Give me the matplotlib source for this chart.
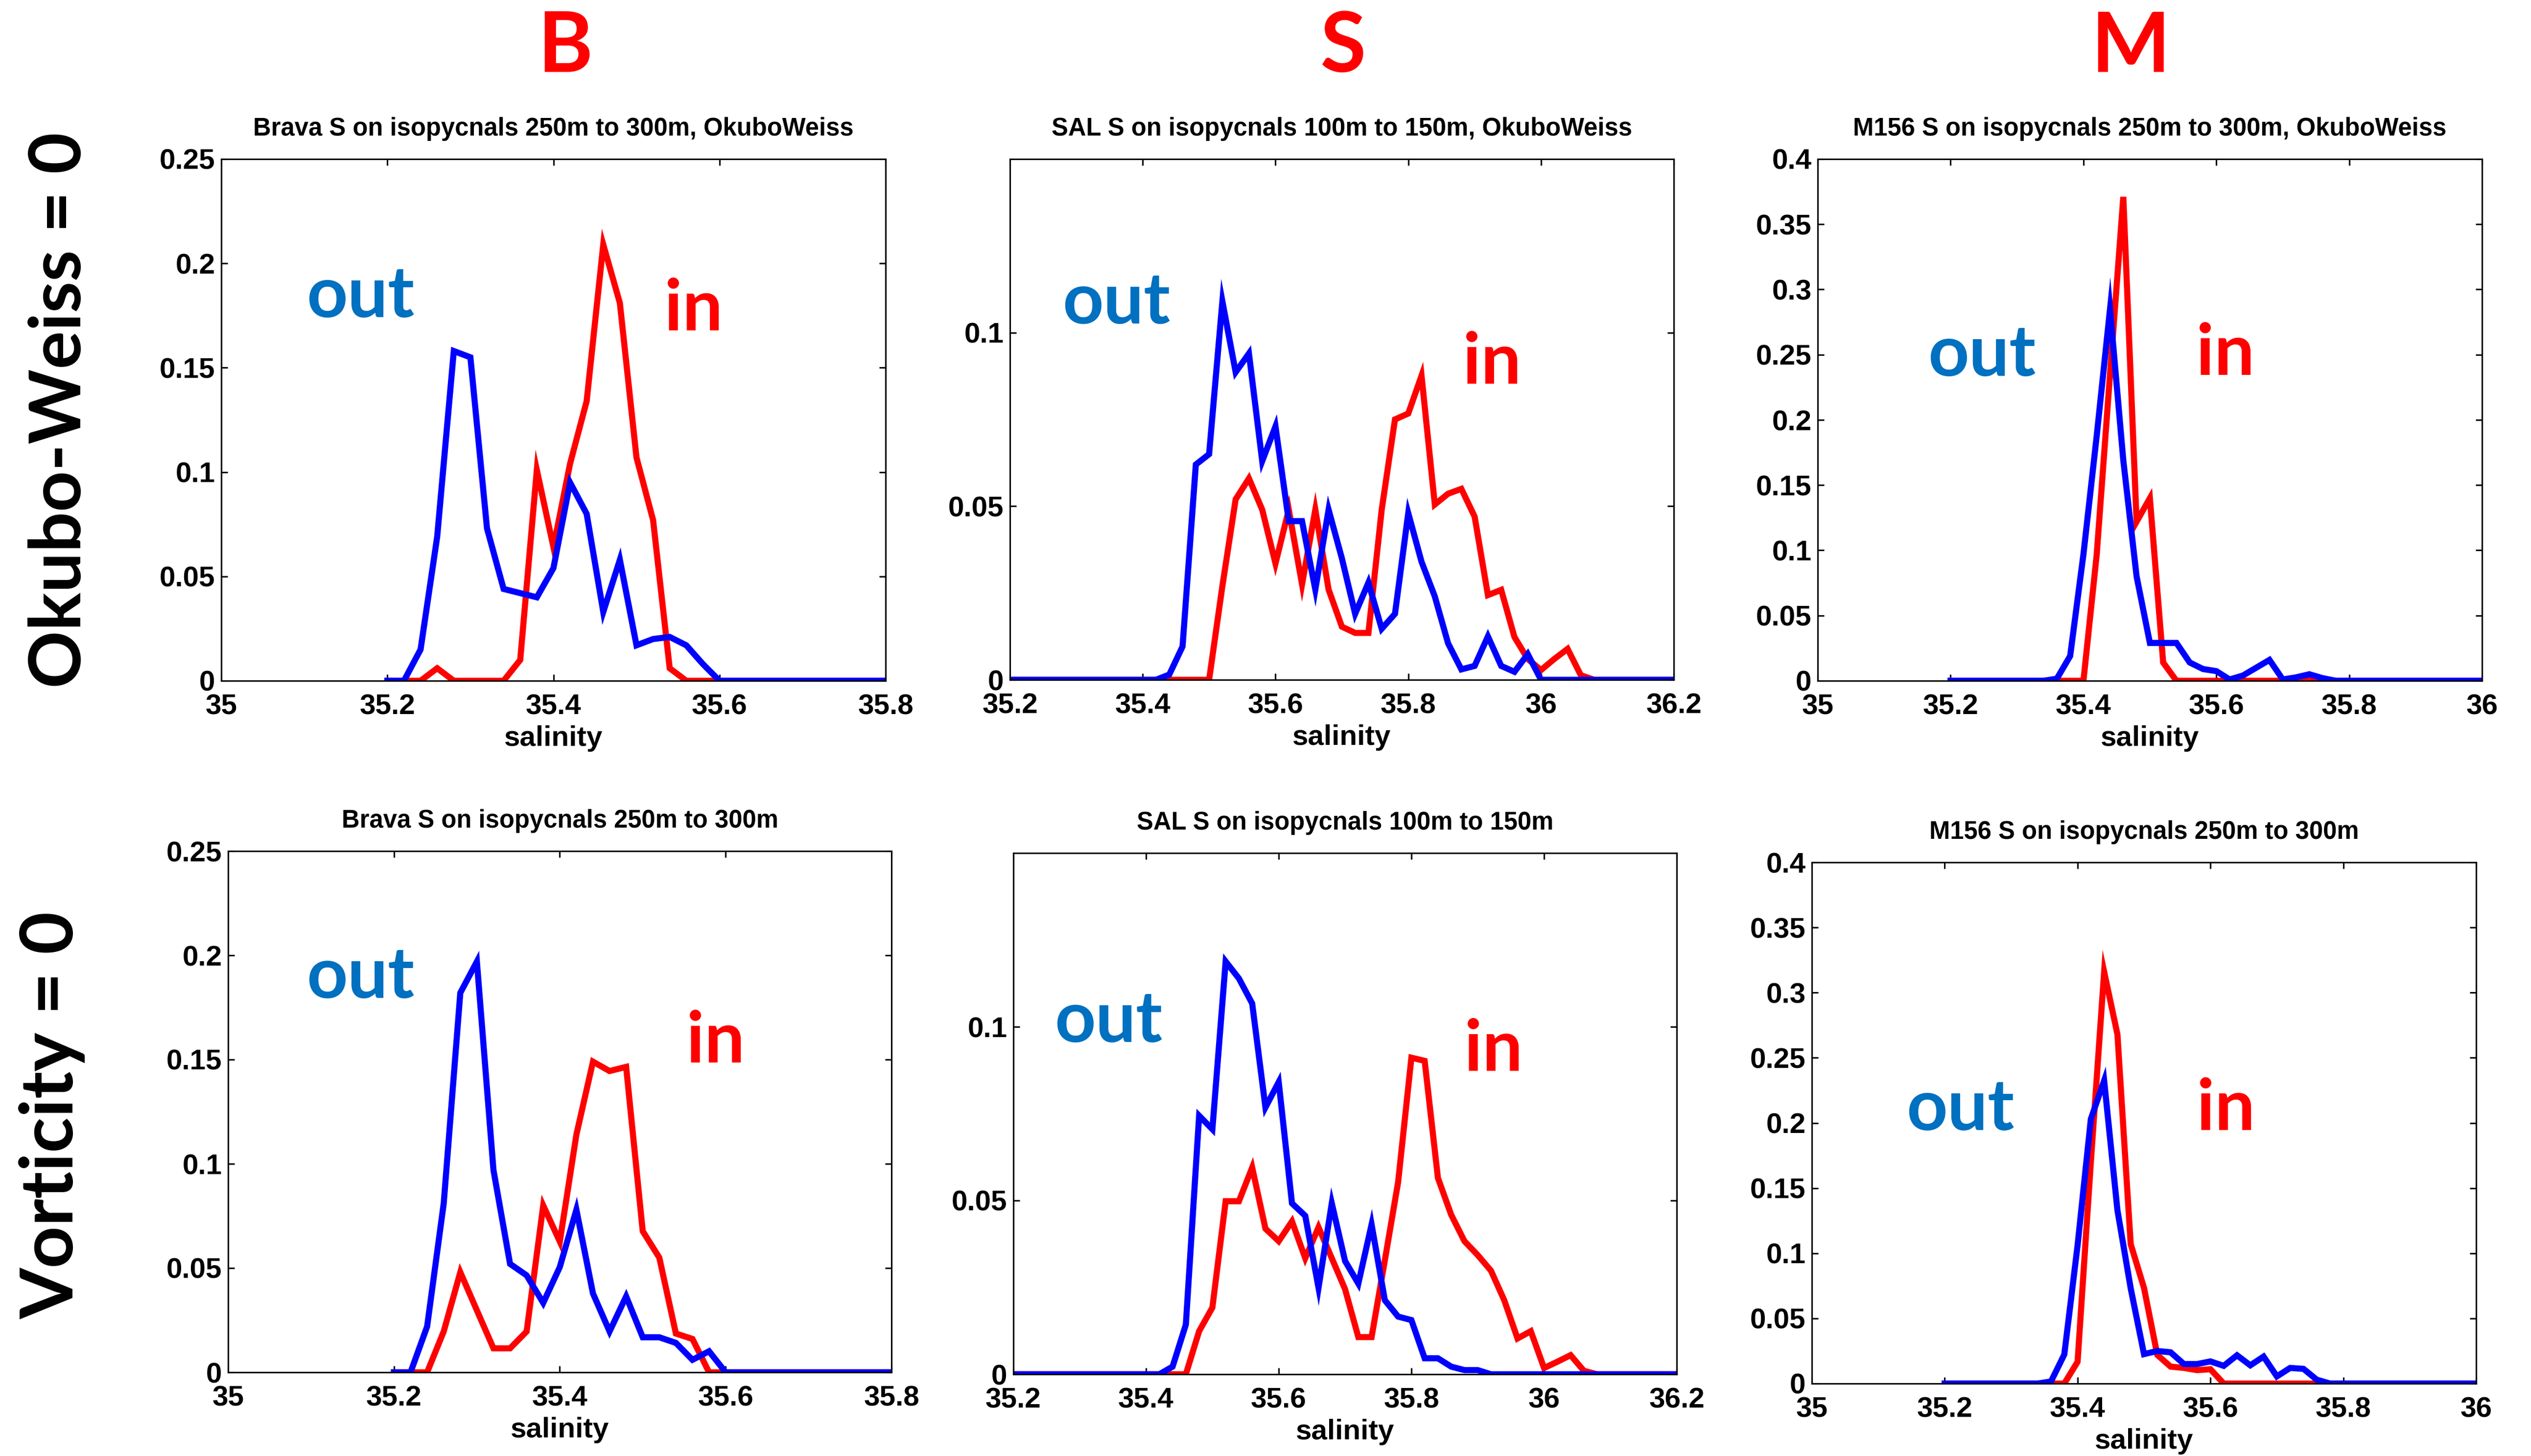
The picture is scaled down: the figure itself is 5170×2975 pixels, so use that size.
import numpy as np
import matplotlib
matplotlib.use('Agg')
import matplotlib.pyplot as plt
from matplotlib.ticker import FuncFormatter

# salinity bin centres (0.02 wide bins) for each site
sal_brava = np.round(np.linspace(35.2, 35.8, 31), 2)
sal_sal = np.round(np.linspace(35.2, 36.2, 51), 2)
sal_m156 = np.round(np.linspace(35.2, 36.0, 41), 2)

## Normalised salinity histograms, eddy edge from Okubo-Weiss = 0
brava_ow_out = [0, 0, 0.015, 0.069, 0.158, 0.155, 0.073, 0.044, 0.042, 0.040,
                0.054, 0.095, 0.080, 0.033, 0.058, 0.017, 0.020, 0.021, 0.017, 0.008,
                0, 0, 0, 0, 0, 0, 0, 0, 0, 0, 0]
brava_ow_in = [0, 0, 0, 0.006, 0, 0, 0, 0, 0.010, 0.101,
               0.064, 0.104, 0.134, 0.209, 0.181, 0.107, 0.077, 0.006, 0, 0,
               0, 0, 0, 0, 0, 0, 0, 0, 0, 0, 0]

sal_ow_out = [0, 0, 0, 0, 0, 0, 0, 0, 0, 0, 0, 0,
              0.0015, 0.0096, 0.062, 0.065, 0.109, 0.0886, 0.094, 0.063, 0.073, 0.0457,
              0.0457, 0.026, 0.049, 0.035, 0.019, 0.028, 0.0147, 0.019, 0.048, 0.034,
              0.024, 0.0105, 0.003, 0.004, 0.0125, 0.004, 0.0023, 0.0074, 0,
              0, 0, 0, 0, 0, 0, 0, 0, 0, 0]
sal_ow_in = [0, 0, 0, 0, 0, 0, 0, 0, 0, 0, 0, 0, 0, 0, 0, 0,
             0.027, 0.052, 0.058, 0.049, 0.0335, 0.049, 0.0275, 0.049, 0.026, 0.0153,
             0.0135, 0.0135, 0.049, 0.075, 0.0767, 0.0876, 0.0505, 0.0536, 0.055, 0.047,
             0.0244, 0.0259, 0.0123, 0.006, 0.0028, 0.006, 0.0089, 0.0013,
             0, 0, 0, 0, 0, 0, 0]

m156_ow_out = [0, 0, 0, 0, 0, 0, 0, 0,
               0.0016, 0.019, 0.097, 0.188, 0.285, 0.169, 0.080, 0.029, 0.029, 0.029,
               0.014, 0.009, 0.0074, 0.001, 0.004, 0.010, 0.016, 0.001, 0.0026, 0.005,
               0.002, 0, 0, 0, 0, 0, 0, 0, 0, 0, 0, 0, 0]
m156_ow_in = [0, 0, 0, 0, 0, 0, 0, 0, 0, 0, 0,
              0.097, 0.235, 0.371, 0.122, 0.140, 0.014, 0, 0, 0, 0,
              0, 0, 0, 0, 0, 0, 0.003, 0, 0, 0,
              0, 0, 0, 0, 0, 0, 0, 0, 0, 0]

## Same histograms, eddy edge from vorticity = 0
brava_vo_out = [0, 0, 0.022, 0.081, 0.182, 0.197, 0.097, 0.052, 0.0465, 0.0333,
                0.0505, 0.078, 0.0378, 0.0196, 0.0364, 0.0168, 0.0168, 0.0141, 0.006, 0.0101,
                0, 0, 0, 0, 0, 0, 0, 0, 0, 0, 0]
brava_vo_in = [0, 0, 0, 0.0196, 0.048, 0.0297, 0.0115, 0.0115, 0.0196, 0.080,
               0.0627, 0.114, 0.149, 0.1445, 0.1465, 0.0677, 0.055, 0.0186, 0.016, 0,
               0, 0, 0, 0, 0, 0, 0, 0, 0, 0, 0]

sal_vo_out = [0, 0, 0, 0, 0, 0, 0, 0, 0, 0, 0, 0,
              0.0022, 0.0143, 0.0744, 0.0705, 0.1188, 0.1139, 0.1067, 0.0768, 0.0841, 0.0492,
              0.0456, 0.0249, 0.0492, 0.0326, 0.0261, 0.0431, 0.0213, 0.0166, 0.0156, 0.0046,
              0.0046, 0.0022, 0.0012, 0.0012, 0,
              0, 0, 0, 0, 0, 0, 0, 0, 0, 0, 0, 0, 0, 0]
sal_vo_in = [0, 0, 0, 0, 0, 0, 0, 0, 0, 0, 0, 0, 0, 0,
             0.0124, 0.0192, 0.0498, 0.0498, 0.0595, 0.0419, 0.0383, 0.044, 0.0334, 0.0423,
             0.0334, 0.0245, 0.0107, 0.0107, 0.0328, 0.0553, 0.0911, 0.0902, 0.0565, 0.0459,
             0.0383, 0.0343, 0.0298, 0.0213, 0.0103, 0.0124, 0.0018, 0.0036, 0.0055, 0.001,
             0, 0, 0, 0, 0, 0, 0]

m156_vo_out = [0, 0, 0, 0, 0, 0, 0, 0,
               0.0016, 0.0223, 0.106, 0.203, 0.2325, 0.133, 0.073, 0.0226, 0.025, 0.024,
               0.015, 0.015, 0.017, 0.0136, 0.0217, 0.014, 0.0207, 0.0055, 0.012, 0.0113,
               0.003, 0, 0, 0, 0, 0, 0, 0, 0, 0, 0, 0, 0]
m156_vo_in = [0, 0, 0, 0, 0, 0, 0, 0, 0, 0,
              0.0167, 0.17, 0.316, 0.268, 0.107, 0.0734, 0.022, 0.013, 0.012, 0.0103,
              0.011, 0, 0, 0, 0, 0, 0, 0, 0, 0,
              0, 0, 0, 0, 0, 0, 0, 0, 0, 0, 0]

col_names = ['B', 'S', 'M']
row_names = ['Okubo-Weiss = 0', 'Vorticity = 0']
titles = ['Brava S on isopycnals 250m to 300m, OkuboWeiss',
          'SAL S on isopycnals 100m to 150m, OkuboWeiss',
          'M156 S on isopycnals 250m to 300m, OkuboWeiss',
          'Brava S on isopycnals 250m to 300m',
          'SAL S on isopycnals 100m to 150m',
          'M156 S on isopycnals 250m to 300m']

W, H = 5170, 2975
BLUE = '#0000ff'
RED = '#ff0000'
TEXT_FONT = ['Lato', 'DejaVu Sans']
TICK_FONT = ['Liberation Sans', 'DejaVu Sans']

# axes boxes in pixels: left, right, top, bottom
boxes = [(452, 1809, 325, 1391), (2063, 3419, 325, 1389), (3713, 5070, 325, 1391),
         (466, 1821, 1739, 2804), (2070, 3425, 1743, 2808), (3701, 5058, 1762, 2827)]

# x range / ticks, y range / ticks per site
xaxes = {'brava': ((35, 35.8), [35, 35.2, 35.4, 35.6, 35.8]),
         'sal': ((35.2, 36.2), [35.2, 35.4, 35.6, 35.8, 36, 36.2]),
         'm156': ((35, 36), [35, 35.2, 35.4, 35.6, 35.8, 36])}
yaxes = {'brava': ((0, 0.25), [0, 0.05, 0.1, 0.15, 0.2, 0.25]),
         'sal': ((0, 0.15), [0, 0.05, 0.1]),
         'm156': ((0, 0.4), [0, 0.05, 0.1, 0.15, 0.2, 0.25, 0.3, 0.35, 0.4])}

# "out" / "in" label spots in axes fractions (left edge, baseline)
out_pos = [(0.128, 0.697), (0.079, 0.684), (0.166, 0.584),
           (0.118, 0.718), (0.062, 0.638), (0.142, 0.486)]
in_pos = [(0.667, 0.672), (0.682, 0.569), (0.570, 0.586),
          (0.691, 0.594), (0.680, 0.582), (0.579, 0.486)]


def fmt(v, p):
    return '%g' % round(v, 4)


def drawPanel(fig, i, site, x, out, inn):
    l, r, t, b = boxes[i]
    ax = fig.add_axes([l / W, 1 - b / H, (r - l) / W, (b - t) / H])
    ax.plot(x, inn, color=RED, lw=3.0, solid_joinstyle='miter')
    ax.plot(x, out, color=BLUE, lw=3.0, solid_joinstyle='miter')

    xlim, xt = xaxes[site]
    ylim, yt = yaxes[site]
    ax.set_xlim(xlim)
    ax.set_ylim(ylim)
    ax.set_xticks(xt)
    ax.set_yticks(yt)
    ax.xaxis.set_major_formatter(FuncFormatter(fmt))
    ax.yaxis.set_major_formatter(FuncFormatter(fmt))
    ax.tick_params(direction='in', top=True, right=True, length=3.1, width=0.75)
    ax.tick_params(axis='x', pad=6.4)
    ax.tick_params(axis='y', pad=3)
    for lab in ax.get_xticklabels() + ax.get_yticklabels():
        lab.set_family(TICK_FONT)
        lab.set_fontweight('bold')
        lab.set_fontsize(14)
    for s in ax.spines.values():
        s.set_linewidth(0.75)

    ax.set_xlabel('salinity', family=TICK_FONT, fontweight='bold', fontsize=14, labelpad=2.4)
    ax.set_title(titles[i], family=TICK_FONT, fontweight='bold', fontsize=12.2, pad=11.5)

    ox, oy = out_pos[i]
    ix, iy = in_pos[i]
    ax.text(ox, oy, 'out', transform=ax.transAxes, color='#0070c0', family=TEXT_FONT,
            fontweight='bold', fontsize=35, ha='left', va='baseline')
    ax.text(ix, iy, 'in', transform=ax.transAxes, color=RED, family=TEXT_FONT,
            fontweight='bold', fontsize=35, ha='left', va='baseline')
    return ax


def main():
    fig = plt.figure(figsize=(W / 300, H / 300), dpi=300)

    panels = [('brava', sal_brava, brava_ow_out, brava_ow_in),
              ('sal', sal_sal, sal_ow_out, sal_ow_in),
              ('m156', sal_m156, m156_ow_out, m156_ow_in),
              ('brava', sal_brava, brava_vo_out, brava_vo_in),
              ('sal', sal_sal, sal_vo_out, sal_vo_in),
              ('m156', sal_m156, m156_vo_out, m156_vo_in)]
    for i, (site, x, out, inn) in enumerate(panels):
        drawPanel(fig, i, site, x, out, inn)

    # column headers and row headers
    for name, cx in zip(col_names, [1155, 2743, 4352]):
        fig.text(cx / W, 1 - 147 / H, name, color=RED, family=TEXT_FONT,
                 fontweight='bold', fontsize=41, ha='center', va='baseline')
    for name, cx, cy, fs in zip(row_names, [165, 150], [838, 2279], [35, 36]):
        fig.text(cx / W, 1 - cy / H, name, color='black', family=TEXT_FONT,
                 fontweight='bold', fontsize=fs, rotation=90, rotation_mode='anchor',
                 ha='center', va='baseline')

    fig.savefig('out.png', dpi=300, facecolor='white')


if __name__ == "__main__":
    main()
